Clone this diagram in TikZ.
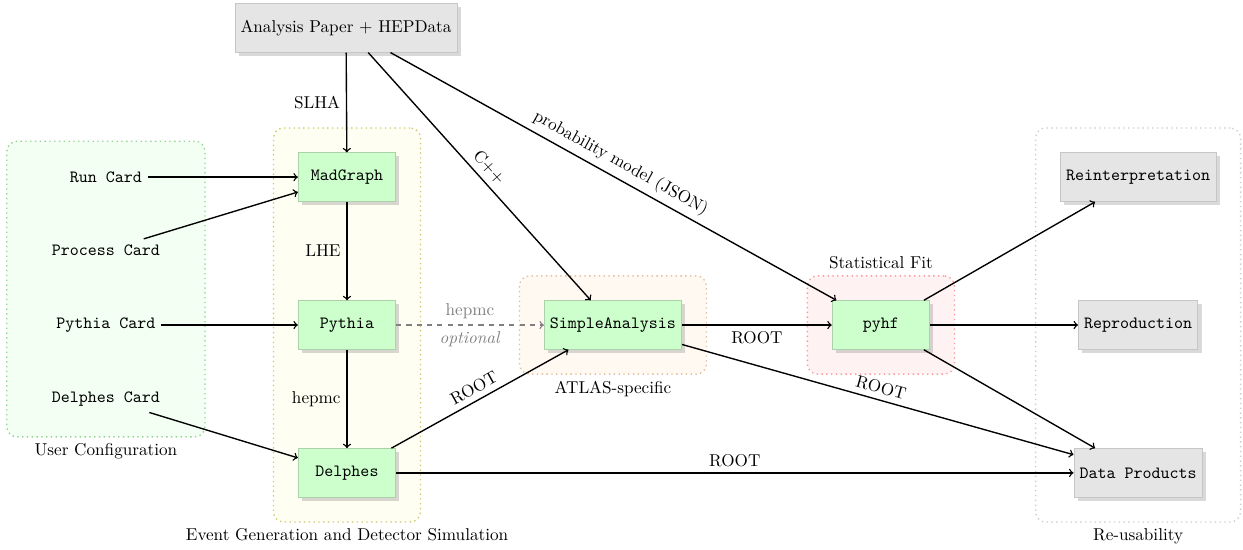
\documentclass[tikz,border=0pt]{standalone}
\usetikzlibrary{fit,shadows,backgrounds}

\begin{document}
\begin{tikzpicture}
    \tikzset{
        mybox/.style={
            draw=green!30!gray!50, fill=green!20, drop shadow={opacity=0.3},
            minimum width=2cm, minimum height=1cm,
            font=\ttfamily,
        },
        mygraybox/.style={
            draw=gray!45, fill=gray!20, drop shadow={opacity=0.3},
            minimum width=2cm, minimum height=1cm,
        },
        mycard/.style={font=\ttfamily},
        mygroup/.style={
            dotted, thick, rounded corners=6pt, inner sep=0.5cm,
        },
        myedge/.style={->, thick},
    }
    \useasboundingbox (0,0) rectangle (25.47,-11.27);

    % Vertices
    \node[mygraybox] (paper) at (7.09,-0.57) {Analysis Paper + HEPData};

    \node[mycard] (runcard) at (2.17,-3.63) {Run Card};
    \node[mycard] (processcard) at (2.17,-5.13) {Process Card};
    \node[mycard] (pythiacard) at (2.17,-6.66) {Pythia Card};
    \node[mycard] (delphescard) at (2.17,-8.18) {Delphes Card};

    \node[mybox] (madgraph) at (7.11,-3.63) {MadGraph};
    \node[mybox] (pythia) at (7.11,-6.66) {Pythia};
    \node[mybox] (delphes) at (7.11,-9.69) {Delphes};

    \node[mybox] (simple) at (12.56,-6.66) {SimpleAnalysis};
    \node[mybox] (pyhf) at (18.05,-6.66) {pyhf};

    \node[mygraybox, font=\ttfamily] (reinterp) at (23.32,-3.63) {Reinterpretation};
    \node[mygraybox, font=\ttfamily] (repro) at (23.32,-6.66) {Reproduction};
    \node[mygraybox, font=\ttfamily] (dataprod) at (23.32,-9.69) {Data Products};

    % Groups
    \begin{scope}[on background layer]
        \node[mygroup, draw=green!40!gray!60, fill=green!5, inner xsep=0.8cm,
            fit=(runcard)(processcard)(delphescard),
            label=below:User Configuration] (usergroup) {};
        \node[mygroup, draw=olive!45, fill=yellow!5,
            fit=(madgraph)(delphes),
            label=below:Event Generation and Detector Simulation] (eventgroup) {};
        \node[mygroup, draw=brown!50, fill=orange!5,
            fit=(simple),
            label=below:ATLAS-specific] (atlasgroup) {};
        \node[mygroup, draw=red!40, fill=red!5,
            fit=(pyhf),
            label=above:Statistical Fit] (fitgroup) {};
        \node[mygroup, draw=gray!40,
            fit=(reinterp)(dataprod),
            label=below:Re-usability] (reusegroup) {};
    \end{scope}

    % Arcs
    \draw[myedge] (paper) -- node[left] {SLHA} (madgraph);
    \draw[myedge] (paper) -- node[above, sloped] {C++} (simple);
    \draw[myedge] (paper) -- node[above, sloped] {probability model (JSON)} (pyhf);

    \draw[myedge] (runcard) -- (madgraph);
    \draw[myedge] (processcard) -- (madgraph);
    \draw[myedge] (pythiacard) -- (pythia);
    \draw[myedge] (delphescard) -- (delphes);

    \draw[myedge] (madgraph) -- node[left] {LHE} (pythia);
    \draw[myedge] (pythia) -- node[left] {hepmc} (delphes);
    \draw[myedge, dashed, gray] (pythia) -- node[above] {hepmc} node[below] {\textit{optional}} (simple);

    \draw[myedge] (delphes) -- node[above, sloped] {ROOT} (simple);
    \draw[myedge] (delphes) -- node[above] {ROOT} (dataprod);
    \draw[myedge] (simple) -- node[below] {ROOT} (pyhf);
    \draw[myedge] (simple) -- node[above, sloped] {ROOT} (dataprod);

    \draw[myedge] (pyhf) -- (reinterp);
    \draw[myedge] (pyhf) -- (repro);
    \draw[myedge] (pyhf) -- (dataprod);

\end{tikzpicture}
\end{document}
